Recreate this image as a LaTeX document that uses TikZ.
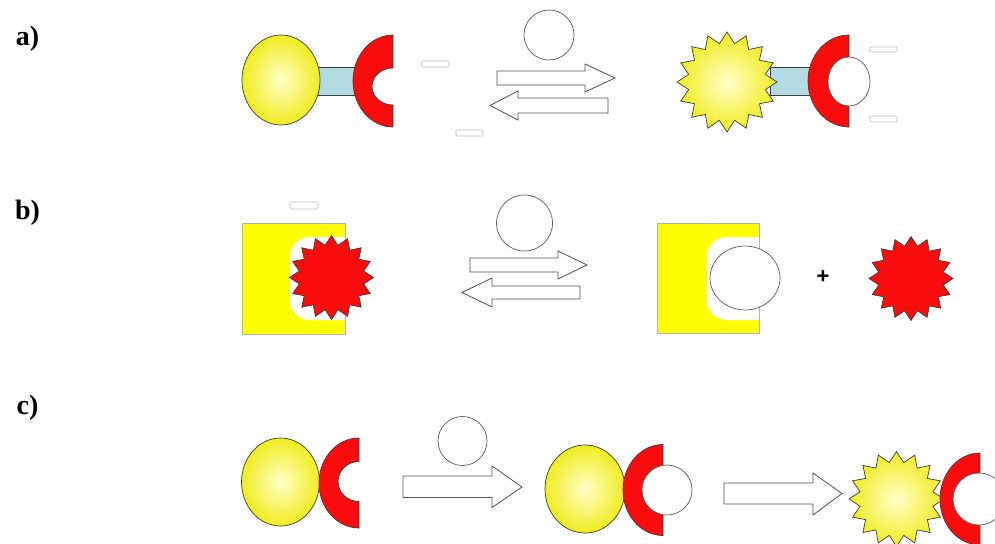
\documentclass[tikz,border=0pt]{standalone}
\usepackage{fontspec}
\setmainfont{Liberation Serif}
\setsansfont{Liberation Sans}
\usetikzlibrary{shapes.geometric}
\definecolor{ored}{RGB}{250,12,12}
\definecolor{lblue}{RGB}{178,220,225}
\definecolor{edge}{RGB}{60,60,60}
\definecolor{sqyellow}{RGB}{255,255,0}
\definecolor{ylight}{RGB}{255,255,200}
\definecolor{ydark}{RGB}{240,236,30}
\newcommand\Cshape[7]{%
  \path[outl,fill=ored] (#1,{#2-#4}) arc[start angle=90,end angle=270,x radius=#3pt,y radius=#4pt]
    -- (#1,{#7+#6}) arc[start angle=270,end angle=90,x radius=#5pt,y radius=#6pt] -- cycle;}
\begin{document}
\begin{tikzpicture}[x=1pt,y=-1pt,
  outl/.style={draw=edge,line width=0.7pt},
  ball/.style={ellipse,outl,inner sep=0pt,shading=radial,inner color=ylight,outer color=ydark},
  burst/.style={star,star points=16,star point ratio=1.28,inner sep=0pt,outl},
  lig/.style={ellipse,draw=edge!85,line width=0.7pt,fill=white,inner sep=0pt},
  blank/.style={draw=gray!55,fill=white,rounded corners=1pt,line width=0.6pt},
  barrow/.style={draw=edge!90,line width=0.8pt,fill=white},
  lab/.style={font=\bfseries\fontsize{28}{28}\selectfont,inner sep=0pt},
  linker/.style={fill=lblue,draw=edge,line width=0.6pt}
]
\useasboundingbox[fill=white] (0,0) rectangle (995,543);

% labels
\node[lab] (la) at (27.5,39) {a)};
\node[lab] (lb) at (27.5,212.5) {b)};
\node[lab] (lc) at (27.5,408) {c)};

% ---------- a) left
\path[linker] (315,67) rectangle (362,95);
\node[ball,minimum width=78pt,minimum height=90pt] (a1) at (281,80) {};
\Cshape{393}{81}{40}{46}{21}{18.5}{86.5}
\path[blank] (422,61) rectangle (449,67);
\path[blank] (456,130) rectangle (483,136);

% a) arrows
\node[lig,minimum width=50pt,minimum height=50pt] (ga) at (549,35) {};
\path[barrow] (497,71)--(585,71)--(585,64)--(615,78)--(585,92)--(585,85)--(497,85)--cycle;
\path[barrow] (608,98)--(518,98)--(518,91)--(490,105.5)--(518,120)--(518,113)--(608,113)--cycle;

% a) right
\path[linker] (770,67) rectangle (815,95);
\node[burst,minimum size=100pt,shading=radial,inner color=ylight,outer color=ydark] (a2) at (727,82) {};
\Cshape{849}{81}{41}{46}{21}{24.5}{81.5}
\node[lig,minimum width=42pt,minimum height=49pt] (a3) at (849,81.5) {};
\path[blank] (870,47) rectangle (897,52);
\path[blank] (870,116) rectangle (897,122);

% ---------- b) left
\path[fill=sqyellow] (242,223) rectangle (345,334);
\begin{scope}
  \clip (242,223) rectangle (345,334);
  \fill[white,rounded corners=20pt] (290,237) rectangle (370,320);
\end{scope}
\draw[gray!60,line width=0.6pt] (242,223) rectangle (345,334);
\node[burst,minimum size=84pt,fill=ored] (b1) at (331.5,277.5) {};
\path[blank] (290,202) rectangle (318,209);

% b) arrows
\node[lig,minimum width=56pt,minimum height=56pt] (gb) at (524.5,223) {};
\path[barrow] (470,258)--(558,258)--(558,251)--(587,265)--(558,279)--(558,272)--(470,272)--cycle;
\path[barrow] (580,286)--(492,286)--(492,278)--(462,292.5)--(492,307)--(492,299)--(580,299)--cycle;

% b) right
\path[fill=sqyellow] (657,223) rectangle (759,333);
\begin{scope}
  \clip (657,223) rectangle (759,333);
  \fill[white,rounded corners=20pt] (707,237) rectangle (785,320);
\end{scope}
\draw[gray!60,line width=0.6pt] (657,223) rectangle (759,333);
\node[lig,minimum width=70pt,minimum height=64pt] (b2) at (745,278) {};
\node[font=\sffamily\bfseries\fontsize{22}{22}\selectfont] (plus) at (823,277) {+};
\node[burst,minimum size=84pt,fill=ored] (b3) at (911,278.5) {};

% ---------- c) left
\node[ball,minimum width=78pt,minimum height=88pt] (c1) at (280.5,482) {};
\Cshape{359}{483}{40}{45}{21}{20}{481.5}
\node[lig,minimum width=49pt,minimum height=49pt] (gc) at (462.5,441) {};
\path[barrow] (403,476)--(492,476)--(492,466)--(522,487)--(492,507.5)--(492,497.5)--(403,497.5)--cycle;

% c) middle
\node[ball,minimum width=80pt,minimum height=88pt] (c2) at (585,489) {};
\Cshape{663}{490}{40}{45.5}{20}{24}{490}
\node[lig,minimum width=50pt,minimum height=50pt] (c3) at (667,490) {};
\path[barrow] (724,483)--(813,483)--(813,473)--(842,493.5)--(813,515)--(813,504)--(724,504)--cycle;

% c) right
\node[burst,minimum size=95pt,shading=radial,inner color=ylight,outer color=ydark] (c4) at (896.5,499) {};
\Cshape{980}{499}{40}{46}{25}{25}{499}
\node[lig,minimum width=52pt,minimum height=52pt] (c5) at (979,499) {};
\end{tikzpicture}
\end{document}
